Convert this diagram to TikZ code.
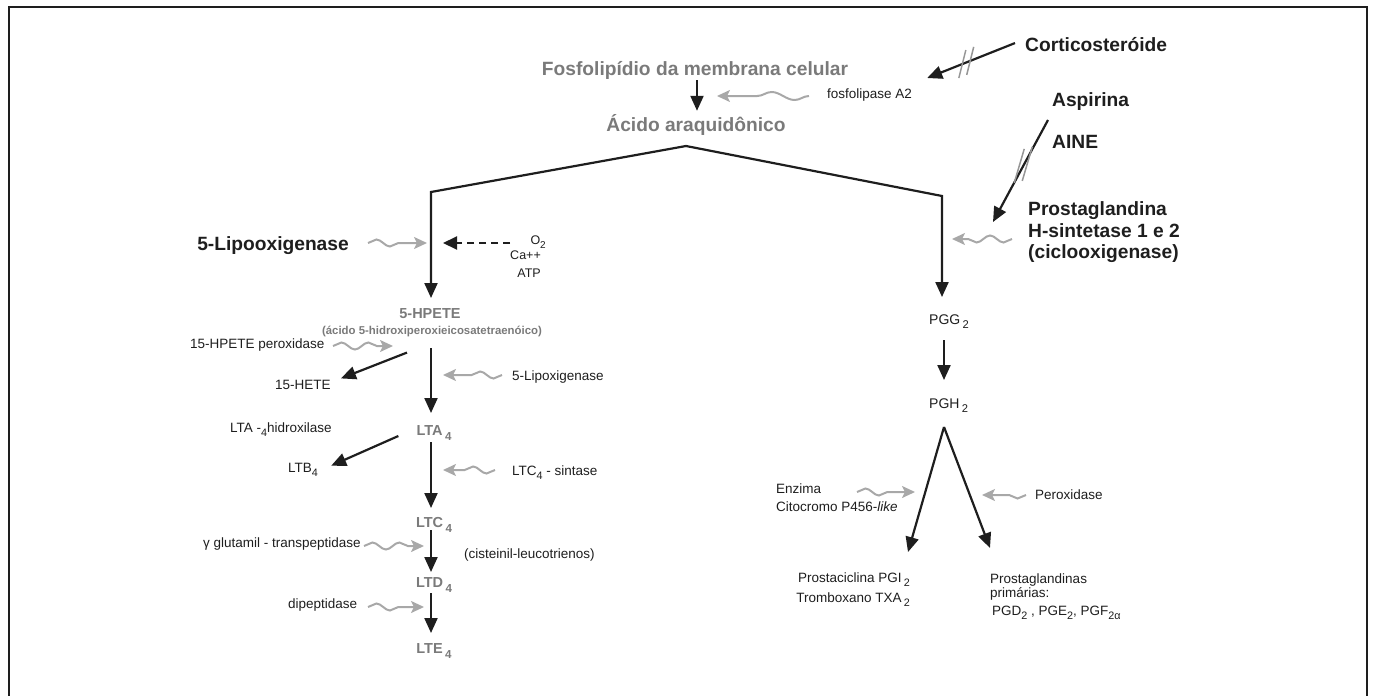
\documentclass[tikz,border=0pt]{standalone}
\usepackage{fontspec}
\setmainfont{Liberation Sans}
\usetikzlibrary{arrows.meta,decorations.pathmorphing,calc}
\definecolor{txtgrey}{RGB}{122,122,122}
\definecolor{wavegrey}{RGB}{168,168,168}
\definecolor{hashgrey}{RGB}{150,150,150}
\definecolor{ink}{RGB}{30,30,30}
\newcommand{\dn}[1]{\raisebox{-0.35em}{\scalebox{0.8}{#1}}}
\begin{document}
\begin{tikzpicture}[x=1pt,y=-1pt,
  big/.style={font=\fontsize{19.2}{23}\selectfont\bfseries, text=ink, inner sep=0pt},
  gbig/.style={big, text=txtgrey},
  sm/.style={font=\fontsize{13.5}{16}\selectfont, text=ink, inner sep=0pt},
  xs/.style={font=\fontsize{12.5}{15}\selectfont, text=ink, inner sep=0pt},
  mid/.style={font=\fontsize{14}{17}\selectfont, text=ink, inner sep=0pt},
  gmid/.style={font=\fontsize{14.5}{17}\selectfont\bfseries, text=txtgrey, inner sep=0pt},
  gsmall/.style={font=\fontsize{11.4}{14}\selectfont\bfseries, text=txtgrey, inner sep=0pt},
  arr/.style={draw=ink, line width=2.2pt, -{Triangle[length=15pt,width=13pt]}},
  dsh/.style={draw=ink, line width=2pt, dash pattern=on 7pt off 5pt, -{Triangle[length=14pt,width=13pt]}},
  wavy/.style={draw=wavegrey, line width=2pt, -{Stealth[length=13pt,width=12pt,inset=3pt]}, decorate, decoration={snake, amplitude=3.5pt, segment length=27pt, pre length=0pt, post length=16pt}},
  hash/.style={draw=hashgrey, line width=1.5pt}
]
\useasboundingbox (0,0) rectangle (1374,696);
% frame
\draw[draw=ink, line width=2pt] (9,700) -- (9,7) -- (1367,7) -- (1367,700);

% top
\node[gbig, anchor=base] (fosfo) at (695,75) {Fosfolipídio da membrana celular};
\node[gbig, anchor=base] (acido) at (696,131) {Ácido araquidônico};
\draw[arr] ($(fosfo.south)+(2,1)$) -- ($(acido.north)+(1,-3)$);
\node[sm, anchor=base west] (fla) at (827,98) {fosfolipase A2};
\coordinate (w0s) at (809,96); \coordinate (w0e) at (717,96);
\draw[wavy, decoration={snake, amplitude=4pt, segment length=46pt, post length=20pt}] (w0s) -- (w0e);

\node[big, anchor=base west] (cort) at (1025,51) {Corticosteróide};
\coordinate (cs) at ($(cort.west)+(-10,-1)$);
\coordinate (ce) at ($(fla.north east)+(15,-10)$);
\draw[arr] (cs) -- (ce);
\draw[hash] ($(cs)!0.51!(ce)+(3.5,-14)$) -- ($(cs)!0.51!(ce)+(-3.5,14)$);
\draw[hash] ($(cs)!0.60!(ce)+(3.5,-14)$) -- ($(cs)!0.60!(ce)+(-3.5,14)$);

\node[big, anchor=base west] (asp) at (1052,106) {Aspirina};
\node[big, anchor=base west] (aine) at (1052,148) {AINE};
\node[big, anchor=base west] (pghs1) at (1028,215) {Prostaglandina};
\node[big, anchor=base west] (pghs2) at (1028,237) {H-sintetase 1 e 2};
\node[big, anchor=base west] (pghs3) at (1028,258) {(ciclooxigenase)};
\coordinate (as) at ($(asp.base west)+(-4,14)$);
\coordinate (ae) at ($(pghs1.base west)+(-35,7)$);
\draw[arr] (as) -- (ae);
\draw[hash] ($(as)!0.45!(ae)+(-4,0)+(5,-17)$) -- ($(as)!0.45!(ae)+(-4,0)+(-5,17)$);
\draw[hash] ($(as)!0.45!(ae)+(4,-2)+(5,-17)$) -- ($(as)!0.45!(ae)+(4,-2)+(-5,17)$);
\coordinate (w7s) at (1012,239); \coordinate (w7e) at (952,239);
\draw[wavy] (w7s) -- (w7e);

% branch
\coordinate (apex) at (686,146);
\coordinate (lc) at (431,192);
\coordinate (rc) at (942,196);

% left column
\node[big, anchor=base] (lipo) at (273,250) {5-Lipooxigenase};
\coordinate (w1s) at (368,243); \coordinate (w1e) at (427,243);
\draw[wavy] (w1s) -- (w1e);
\node[xs, anchor=base east] (o2) at (546,244) {O\dn{2}};
\node[xs, anchor=base east] (ca) at (541,259) {Ca++};
\node[xs, anchor=base east] (atp) at (541,277) {ATP};
\coordinate (ds) at (510,243); \coordinate (de) at (443,243);
\draw[dsh] (ds) -- (de);

\node[gmid, anchor=base] (hpete) at (430,318) {5-HPETE};
\node[gsmall, anchor=base] (hpetef) at (432,334) {(ácido 5-hidroxiperoxieicosatetraenóico)};
\draw[arr] (apex) -- (lc) -- ($(lc |- hpete.base)+(0,-20)$);

\node[sm, anchor=base west] (hpx) at (190,348) {15-HPETE peroxidase};
\coordinate (w2s) at (333,346); \coordinate (w2e) at (393,346);
\draw[wavy] (w2s) -- (w2e);
\node[sm, anchor=base west] (hete) at (275,389) {15-HETE};
\draw[arr] ($(hpetef.south)+(-25,16)$) -- ($(hete.east)+(10,-6)$);

\node[sm, anchor=base west] (lox5) at (512,380) {5-Lipoxigenase};
\coordinate (w3s) at (502,375); \coordinate (w3e) at (443,375);
\draw[wavy] (w3s) -- (w3e);
\node[gmid, anchor=base] (lta) at (434,435) {LTA\,\dn{4}};
\draw[arr] ($(lc |- hpetef.base)+(0,14)$) -- ($(lc |- lta.base)+(0,-22)$);

\node[sm, anchor=base west] (ltah) at (230,432) {LTA -\dn{4}hidroxilase};
\node[sm, anchor=base west] (ltb) at (288,472) {LTB\dn{4}};
\draw[arr] ($(lta.base west)+(-18,1)$) -- ($(ltb.east)+(13,-4)$);

\node[sm, anchor=base west] (ltcs) at (512,475) {LTC\dn{4} - sintase};
\coordinate (w4s) at (495,470); \coordinate (w4e) at (443,470);
\draw[wavy] (w4s) -- (w4e);
\node[gmid, anchor=base] (ltc) at (434,527) {LTC\,\dn{4}};
\draw[arr] ($(lc |- lta.base)+(0,7)$) -- ($(lc |- ltc.base)+(0,-19)$);

\node[sm, anchor=base west] (ggt) at (203,547) {γ glutamil - transpeptidase};
\coordinate (w5s) at (364,546); \coordinate (w5e) at (424,546);
\draw[wavy] (w5s) -- (w5e);
\node[sm, anchor=base west] (cis) at (464,558) {(cisteinil-leucotrienos)};
\node[gmid, anchor=base] (ltd) at (434,587) {LTD\,\dn{4}};
\draw[arr] ($(lc |- ltc.base)+(0,3)$) -- ($(lc |- ltd.base)+(0,-15)$);

\node[sm, anchor=base west] (dip) at (288,608) {dipeptidase};
\coordinate (w6s) at (368,607); \coordinate (w6e) at (424,607);
\draw[wavy] (w6s) -- (w6e);
\node[gmid, anchor=base] (lte) at (434,653) {LTE\,\dn{4}};
\draw[arr] ($(lc |- ltd.base)+(0,6)$) -- ($(lc |- lte.base)+(0,-20)$);

% right column
\node[mid, anchor=base west] (pgg) at (929,324) {PGG\,\dn{2}};
\draw[arr] (apex) -- (rc) -- ($(rc |- pgg.base)+(0,-27)$);
\node[mid, anchor=base west] (pgh) at (929,408) {PGH\,\dn{2}};
\draw[arr] ($(pgg.base west)+(15,16)$) -- ($(pgh.base west)+(15,-28)$);
\coordinate (v) at ($(pgh.base west)+(15,19)$);

\node[sm, anchor=base east] (prc) at (910,582) {Prostaciclina PGI\,\dn{2}};
\node[sm, anchor=base east] (trx) at (910,602) {Tromboxano TXA\,\dn{2}};
\node[sm, anchor=base west] (pgs1) at (990,583) {Prostaglandinas};
\node[sm, anchor=base west] (pgs2) at (990,597) {primárias:};
\node[sm, anchor=base west] (pgs3) at (992,615) {PGD\dn{2} , PGE\dn{2}, PGF\dn{2α}};
\draw[arr] (v) -- ($(prc.north east)+(-2,-20)$);
\draw[arr] (v) -- ($(pgs1.north west)+(0,-25)$);

\node[sm, anchor=base west] (enz) at (776,493) {Enzima};
\node[sm, anchor=base west] (cyt) at (776,511) {Citocromo P456-\textit{like}};
\coordinate (w8s) at (857,492); \coordinate (w8e) at (915,492);
\draw[wavy] (w8s) -- (w8e);
\node[sm, anchor=base west] (perox) at (1035,499) {Peroxidase};
\coordinate (w9s) at (1026,495); \coordinate (w9e) at (982,495);
\draw[wavy] (w9s) -- (w9e);
\end{tikzpicture}
\end{document}
